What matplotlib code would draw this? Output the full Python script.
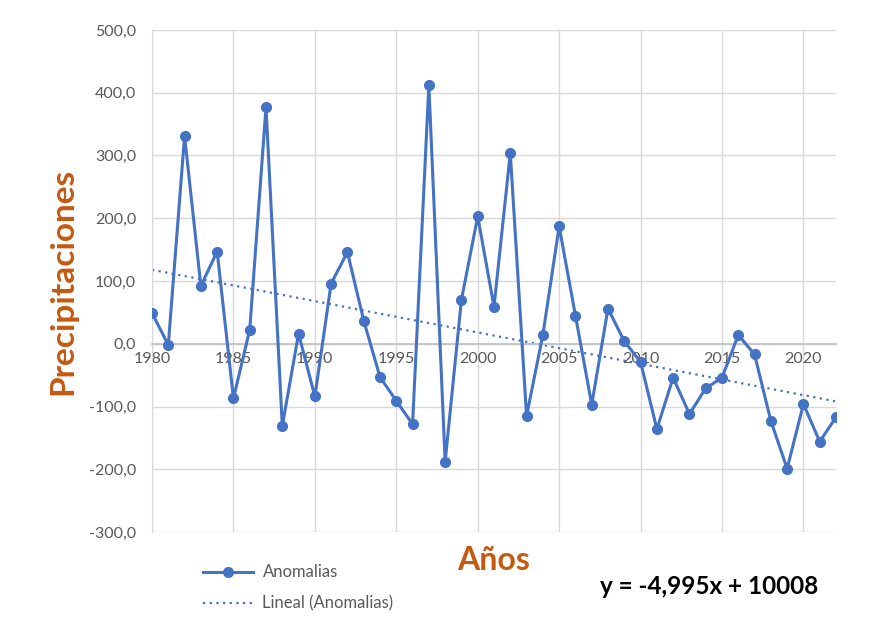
import matplotlib
matplotlib.use("Agg")
import matplotlib.pyplot as plt
from matplotlib.lines import Line2D
import numpy as np

plt.rcParams['font.family'] = ['Lato', 'DejaVu Sans']

years = list(range(1980, 2023))
anomalias = [49, -2, 331, 92, 147, -87, 22, 377, -131, 16,
             -84, 96, 146, 37, -53, -91, -128, 412, -188, 70,
             203, 59, 304, -115, 14, 187, 45, -97, 56, 4,
             -29, -136, -54, -112, -71, -54, 14, -17, -123, -199,
             -96, -156, -117]

slope = -4.995
intercept = 10008
x_ticks = [1980, 1985, 1990, 1995, 2000, 2005, 2010, 2015, 2020]
y_ticks = [-300, -200, -100, 0, 100, 200, 300, 400, 500]

blue = '#4472C4'
grid_c = '#D9D9D9'
text_c = '#595959'
orange = '#C55A11'

fig = plt.figure(figsize=(8.75, 6.26), dpi=100)
ax = fig.add_axes([152 / 875, 1 - 532 / 626, 684 / 875, 502 / 626])

yrs = np.array(years)
trend = slope * yrs + intercept
ax.plot(yrs, trend, color=blue, linestyle=(0, (1, 2)), linewidth=1.6, zorder=2)
ax.plot(years, anomalias, color=blue, linewidth=2.2, marker='o',
        markersize=7, zorder=3)

ax.set_xlim(1980, 2022)
ax.set_ylim(-300, 500)
ax.set_xticks(x_ticks)
ax.set_yticks(y_ticks)
ax.set_yticklabels([f"{v:.1f}".replace('.', ',') for v in y_ticks])
ax.grid(True, color=grid_c, linewidth=1.0, zorder=0)
ax.set_axisbelow(True)

for side in ['top', 'right']:
    ax.spines[side].set_visible(False)
ax.spines['left'].set_color(grid_c)
ax.spines['bottom'].set_position(('data', 0))
ax.spines['bottom'].set_color('#BFBFBF')
ax.spines['bottom'].set_linewidth(1.2)
ax.tick_params(axis='both', length=0, labelsize=11.5, labelcolor=text_c)
ax.tick_params(axis='x', pad=6)
ax.tick_params(axis='y', pad=11.5)

fig.text(63 / 875, 1 - 281 / 626, 'Precipitaciones', rotation=90,
         ha='center', va='center', fontsize=24, fontweight='bold', color=orange)
fig.text(494 / 875, 1 - 560 / 626, 'Años', ha='center', va='center',
         fontsize=23, fontweight='bold', color=orange)
fig.text(709 / 875, 1 - 587 / 626, 'y = -4,995x + 10008', ha='center',
         va='center', fontsize=17.5, fontweight='bold', color='black')

handles = [Line2D([], [], color=blue, linewidth=2.2, marker='o', markersize=7),
           Line2D([], [], color=blue, linestyle=(0, (1, 2)), linewidth=1.6)]
fig.legend(handles, ['Anomalias', 'Lineal (Anomalias)'],
           loc='center left', bbox_to_anchor=(190 / 875, 1 - 588 / 626),
           frameon=False, fontsize=12, labelcolor=text_c,
           handlelength=3.0, handletextpad=0.55, labelspacing=0.9,
           borderpad=0.3)

fig.savefig('out.png', dpi=100)
